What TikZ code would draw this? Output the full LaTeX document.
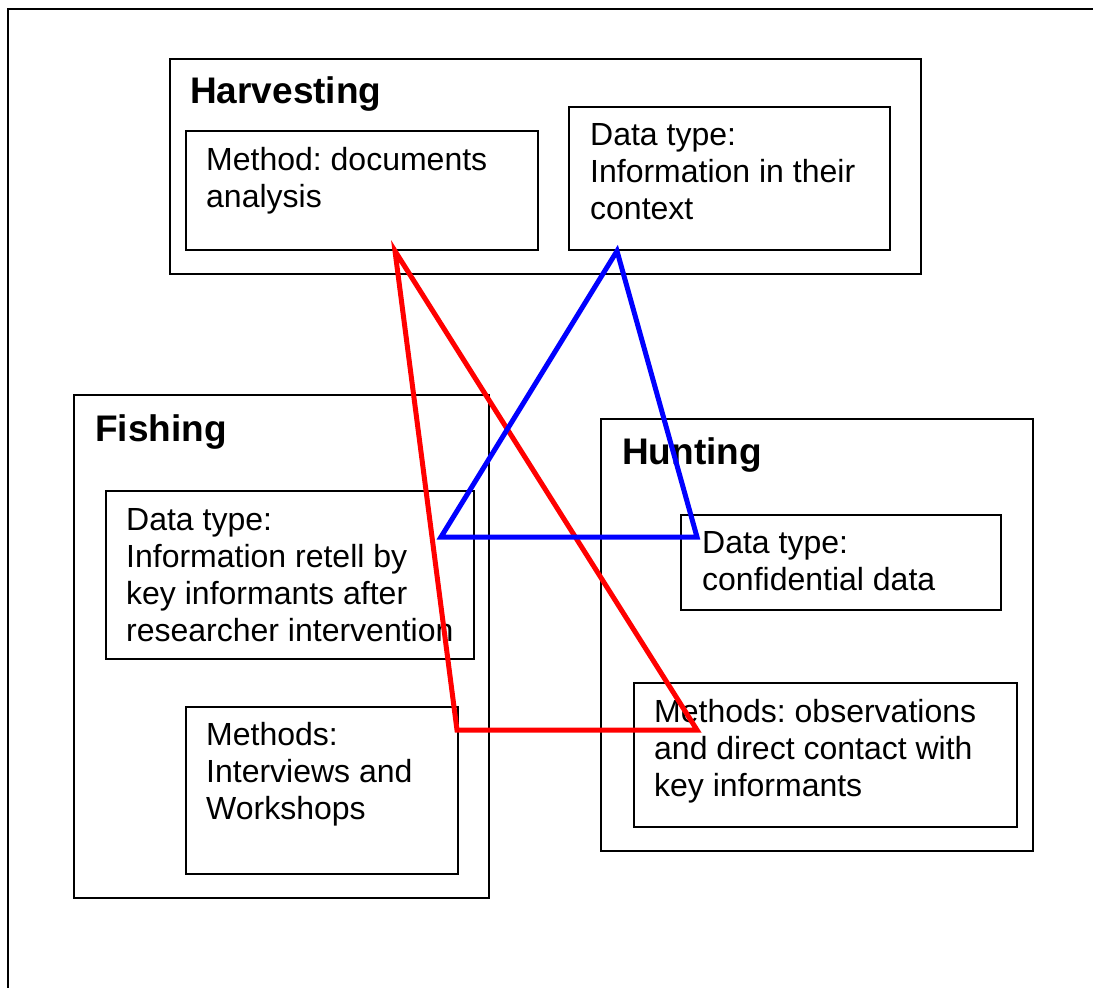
\documentclass[tikz,border=0pt]{standalone}
\usepackage{fontspec}
\setmainfont{Liberation Sans}
\frenchspacing
\begin{document}
\begin{tikzpicture}[x=1pt,y=-1pt,
  frame/.style={draw=black,line width=2pt},
  box/.style={draw=black,line width=1.8pt,inner sep=0pt,anchor=north west},
  title/.style={font=\fontsize{37}{44}\selectfont\bfseries,inner sep=0pt,anchor=base west},
  txt/.style={font=\fontsize{32}{37}\selectfont,inner sep=0pt,anchor=base west,align=left},
  redline/.style={draw=red,line width=5pt},
  blueline/.style={draw=blue,line width=5pt}]
\useasboundingbox (0,0) rectangle (1093,988);

% page frame (only its top and left edges fall inside the picture)
\coordinate (fbl) at (8,988);
\coordinate (ftl) at (8,9);
\coordinate (ftr) at (1093,9);
\draw[frame] (fbl) -- (ftl) -- (ftr);

% text blocks are placed by the baseline of their last line

% Harvesting group
\node[box,minimum width=751pt,minimum height=215pt] (harv) at (169,58) {};
\node[box,minimum width=352pt,minimum height=119pt] (harvM) at (185,130) {};
\node[box,minimum width=321pt,minimum height=143pt] (harvD) at (568,106) {};
\node[title] (harvT) at (190,103) {Harvesting};
\node[txt] (harvMt) at (206,207) {Method: documents\\analysis};
\node[txt] (harvDt) at (590,219) {Data type:\\Information in their\\context};

% Fishing group
\node[box,minimum width=415pt,minimum height=503pt] (fish) at (73,394) {};
\node[box,minimum width=368pt,minimum height=168pt] (fishD) at (105,490) {};
\node[box,minimum width=272pt,minimum height=167pt] (fishM) at (185,706) {};
\node[title] (fishT) at (95,441) {Fishing};
\node[txt] (fishDt) at (126,641) {Data type:\\Information retell by\\key informants after\\researcher intervention};
\node[txt] (fishMt) at (206,819) {Methods:\\Interviews and\\Workshops};

% Hunting group
\node[box,minimum width=432pt,minimum height=432pt] (hunt) at (600,418) {};
\node[box,minimum width=320pt,minimum height=95pt] (huntD) at (680,514) {};
\node[box,minimum width=383pt,minimum height=144pt] (huntM) at (633,682) {};
\node[title] (huntT) at (622,464) {Hunting};
\node[txt] (huntDt) at (702,590) {Data type:\\confidential data};
\node[txt] (huntMt) at (654,796) {Methods: observations\\and direct contact with\\key informants};

% triangle corners
\coordinate (rA) at (395,251);
\coordinate (rB) at (457,730);
\coordinate (rC) at (697,730);
\coordinate (bA) at (617,251);
\coordinate (bB) at (441,537);
\coordinate (bC) at (697,537);

\draw[redline] (rA) -- (rB) -- (rC) -- cycle;
\draw[blueline] (bA) -- (bB) -- (bC) -- cycle;
\end{tikzpicture}
\end{document}
